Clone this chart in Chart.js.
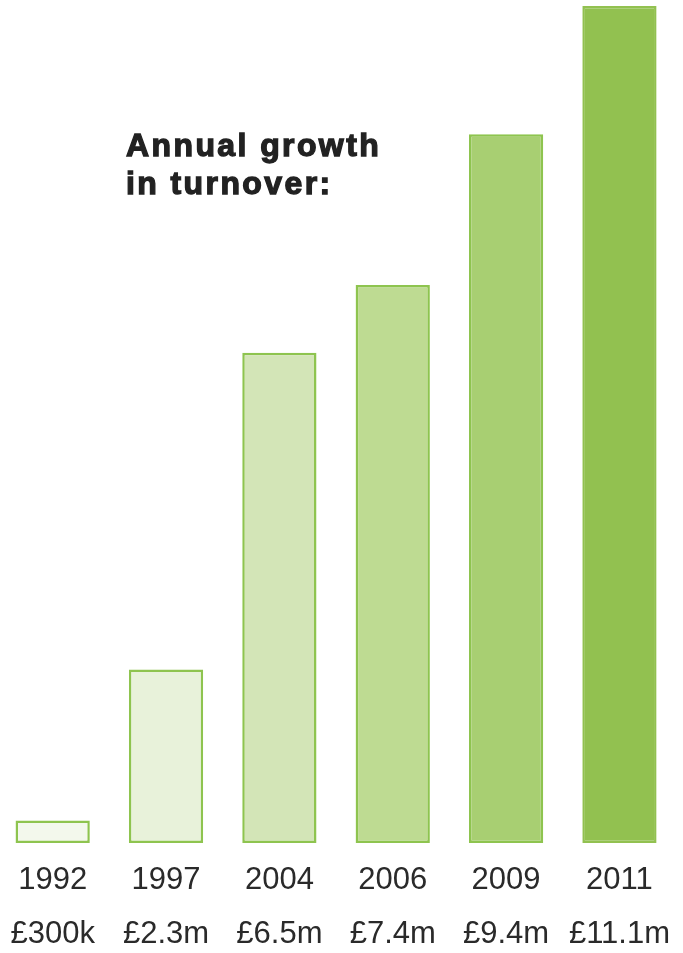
<!DOCTYPE html>
<html>
<head>
<meta charset="utf-8">
<script src="https://cdn.jsdelivr.net/npm/chart.js@4"></script>
<style>
  html, body { margin: 0; padding: 0; background: #fff; }
  #wrap { position: relative; width: 683px; height: 953px; overflow: hidden; }
  #box { position: absolute; left: -4px; top: 0; width: 684px; height: 972px; }
  #titre {
    position: absolute; left: 126px; top: 126px;
    font-family: "Liberation Sans", Arial, sans-serif; font-weight: bold;
    font-size: 32px; line-height: 38px; color: #222;
    letter-spacing: 2.4px; -webkit-text-stroke: 1.3px #222;
  }
</style>
</head>
<body>
<div id="wrap">
  <div id="box"><canvas id="bar-chart"></canvas></div>
  <div id="titre">Annual growth<br>in turnover:</div>
</div>
<script>
const anni = ["1992", "1997", "2004", "2006", "2009", "2011"],
  fatturato = [0.3, 2.3, 6.5, 7.4, 9.4, 11.1],
  etichette = ["£300k", "£2.3m", "£6.5m", "£7.4m", "£9.4m", "£11.1m"],
  colori = ["#f3f8ec", "#e8f2da", "#d3e5b7", "#bedb92", "#a8cf72", "#92c150"],
  bordi = ["#8ec44f", "#8ec44f", "#8ec44f", "#8ec44f", "#8ec44f", "#92c150"];

const ctx = document.getElementById("bar-chart").getContext("2d");

const myChart = new Chart(ctx, {
  type: "bar",
  data: {
    labels: anni.map((a, i) => [a, etichette[i]]),
    datasets: [
      {
        data: fatturato,
        backgroundColor: colori,
        borderColor: bordi,
        borderWidth: 2.5,
        borderSkipped: false,
        barPercentage: 0.655,
        categoryPercentage: 1,
      },
    ],
  },
  options: {
    responsive: true,
    maintainAspectRatio: false,
    animation: false,
    layout: { padding: { top: 6, bottom: 0, left: 0, right: 0 } },
    plugins: { legend: { display: false }, tooltip: { enabled: false } },
    scales: {
      x: {
        grid: { display: false, drawTicks: false },
        border: { display: false },
        ticks: {
          color: "#2a2a2a",
          padding: 10,
          maxRotation: 0,
          autoSkip: false,
          font: { family: "'Liberation Sans', Arial, sans-serif", size: 31, lineHeight: 1.758 },
        },
      },
      y: {
        display: false,
        min: 0,
        max: 11.1,
      },
    },
  },
});
</script>
</body>
</html>
